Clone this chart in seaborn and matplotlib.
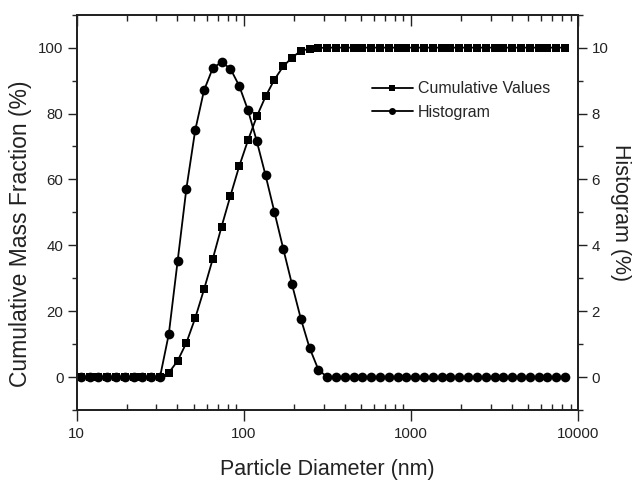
import matplotlib
matplotlib.use("Agg")
import matplotlib.pyplot as plt
import seaborn as sns
import pandas as pd
from matplotlib.lines import Line2D
from matplotlib.ticker import LogLocator, MultipleLocator, FixedLocator, NullFormatter

# Particle diameters (nm)
diameter = [10.57, 11.93, 13.47, 15.21, 17.17, 19.38, 21.88, 24.70, 27.88, 31.48,
            35.53, 40.11, 45.28, 51.12, 57.71, 65.15, 73.55, 83.03, 93.73, 105.8,
            119.4, 134.8, 152.2, 171.8, 194.0, 219.0, 247.2, 279.1, 315.1, 355.7,
            401.5, 453.3, 511.7, 577.7, 652.1, 736.2, 831.1, 938.2, 1059, 1196,
            1350, 1524, 1720, 1942, 2192, 2475, 2794, 3154, 3561, 4020,
            4538, 5123, 5783, 6529, 7371, 8321]

# Cumulative mass fraction (%)
cumulative = [0, 0, 0, 0, 0, 0, 0, 0, 0, 0,
              1.3, 4.9, 10.4, 17.9, 26.6, 35.9, 45.7, 55.0, 64.0, 71.9,
              79.1, 85.2, 90.3, 94.3, 97.0, 99.0, 99.7, 99.9, 100, 100,
              100, 100, 100, 100, 100, 100, 100, 100, 100, 100,
              100, 100, 100, 100, 100, 100, 100, 100, 100, 100,
              100, 100, 100, 100, 100, 100]

# Histogram (%)
histogram = [0, 0, 0, 0, 0, 0, 0, 0, 0, 0,
             1.30, 3.51, 5.72, 7.49, 8.70, 9.38, 9.56, 9.36, 8.84, 8.10,
             7.16, 6.12, 5.01, 3.90, 2.81, 1.77, 0.88, 0.22, 0, 0,
             0, 0, 0, 0, 0, 0, 0, 0, 0, 0,
             0, 0, 0, 0, 0, 0, 0, 0, 0, 0,
             0, 0, 0, 0, 0, 0]

series_names = ["Cumulative Values", "Histogram"]
x_ticks = [10, 100, 1000, 10000]
left_ticks = [0, 20, 40, 60, 80, 100]
right_ticks = [0, 2, 4, 6, 8, 10]

df = pd.DataFrame({"d": diameter, "cum": cumulative, "hist": histogram})

sns.set_style("ticks")
plt.rcParams["font.family"] = ["Liberation Sans", "DejaVu Sans"]

fig = plt.figure(figsize=(6.33, 4.83), dpi=100)
ax = fig.add_axes([0.1212, 0.1511, 0.9136 - 0.1212, 0.9696 - 0.1511])
ax2 = ax.twinx()
ax3 = ax.twiny()

line_kw = dict(color="black", linewidth=1.3, markeredgewidth=0)
sns.lineplot(data=df, x="d", y="cum", ax=ax, marker="s", markersize=6.2, **line_kw)
sns.lineplot(data=df, x="d", y="hist", ax=ax2, marker="o", markersize=7, **line_kw)

ax.set_xscale("log")
ax.set_xlim(10, 10000)
ax.set_ylim(-10, 110)
ax2.set_ylim(-1, 11)

ax.set_xticks(x_ticks)
ax.set_xticklabels([str(v) for v in x_ticks])
ax.xaxis.set_minor_locator(LogLocator(base=10, subs=range(2, 10)))
ax.xaxis.set_minor_formatter(NullFormatter())
ax.set_yticks(left_ticks)
ax.yaxis.set_minor_locator(MultipleLocator(10))
ax2.set_yticks(right_ticks)
ax2.yaxis.set_minor_locator(MultipleLocator(1))

tick_col = "#222222"
lab_size = 10.8
ax.tick_params(axis="x", which="major", direction="out", length=8, width=1, labelsize=lab_size,
               colors=tick_col, pad=4)
ax.tick_params(axis="x", which="minor", direction="in", length=4, width=1)
ax.tick_params(axis="y", which="major", direction="out", length=6.5, width=1, labelsize=lab_size,
               colors=tick_col, pad=3)
ax.tick_params(axis="y", which="minor", direction="out", length=3.5, width=1)
ax2.tick_params(axis="y", which="major", direction="out", length=6.5, width=1, labelsize=lab_size,
                colors=tick_col, pad=3)
ax2.tick_params(axis="y", which="minor", direction="out", length=3.5, width=1)

# top axis mirror ticks (inward, no labels)
ax3.set_xscale("log")
ax3.set_xlim(10, 10000)
ax3.xaxis.set_major_locator(FixedLocator(x_ticks))
ax3.xaxis.set_minor_locator(LogLocator(base=10, subs=range(2, 10)))
ax3.xaxis.set_major_formatter(NullFormatter())
ax3.xaxis.set_minor_formatter(NullFormatter())
ax3.tick_params(axis="x", which="major", direction="in", length=8, width=1, colors=tick_col)
ax3.tick_params(axis="x", which="minor", direction="in", length=4, width=1, colors=tick_col)

for a in (ax, ax2, ax3):
    for s in a.spines.values():
        s.set_visible(True)
        s.set_linewidth(1.2)
        s.set_color("#222222")

lbl_col = "#222222"
ax.set_xlabel("Particle Diameter (nm)", fontsize=15.5, color=lbl_col, labelpad=13)
ax.set_ylabel("Cumulative Mass Fraction (%)", fontsize=16.5, color=lbl_col)
ax.yaxis.set_label_coords(-0.089, 0.445)
ax2.set_ylabel("Histogram (%)", fontsize=15.5, color=lbl_col, labelpad=1, rotation=270,
               va="bottom")

handles = [Line2D([], [], color="black", lw=1.3, marker="s", markersize=4.5, markeredgewidth=0),
           Line2D([], [], color="black", lw=1.3, marker="o", markersize=5, markeredgewidth=0)]
ax2.legend(handles, series_names, loc="upper left", bbox_to_anchor=(0.575, 0.848),
           frameon=False, fontsize=11.5, handlelength=2.6, handletextpad=0.3,
           labelspacing=0.55, borderaxespad=0)

fig.savefig("out.png", dpi=100)
